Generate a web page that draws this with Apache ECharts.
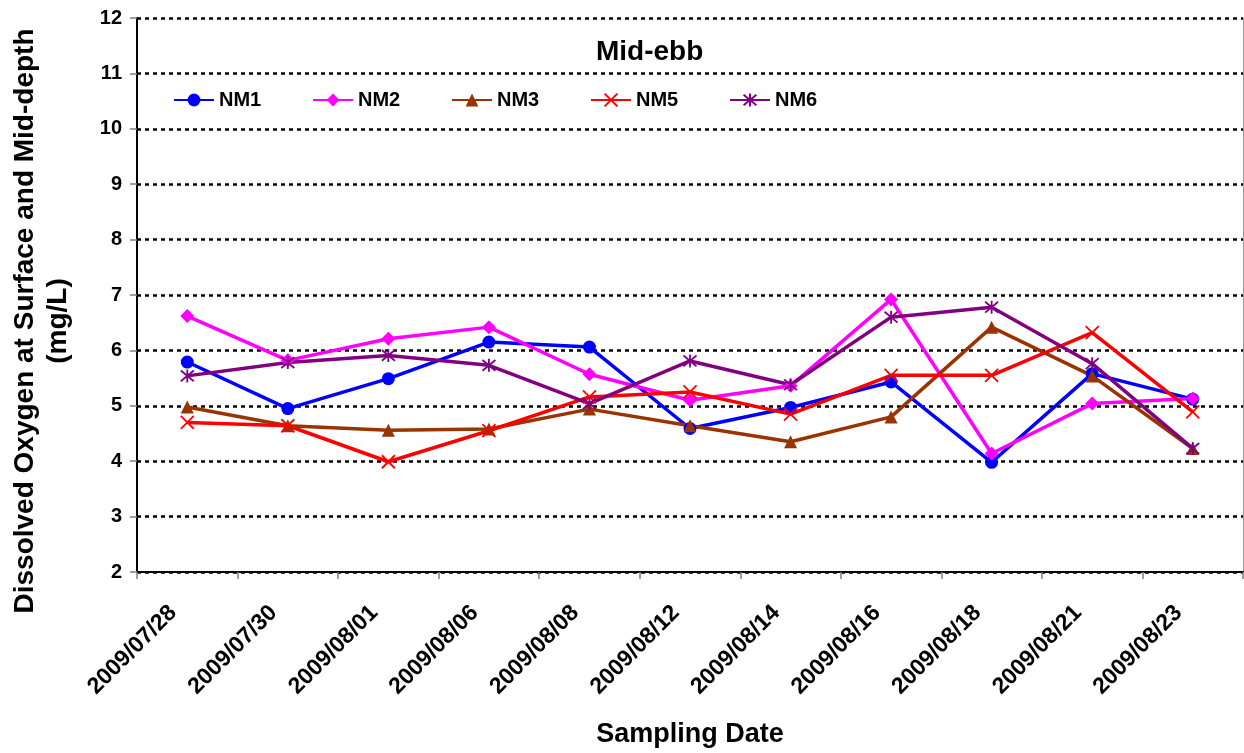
<!DOCTYPE html>
<html>
<head>
<meta charset="utf-8">
<script src="https://cdn.jsdelivr.net/npm/echarts@6/dist/echarts.min.js"></script>
<style>
html,body{margin:0;padding:0;background:#fff;}
#chart{width:1244px;height:753px;}
</style>
</head>
<body>
<div id="chart"></div>
<script>
const dates = ['2009/07/28','2009/07/30','2009/08/01','2009/08/06','2009/08/08','2009/08/12','2009/08/14','2009/08/16','2009/08/18','2009/08/21','2009/08/23'];
const NM1 = [5.79, 4.95, 5.49, 6.15, 6.06, 4.59, 4.97, 5.43, 3.98, 5.58, 5.12];
const NM2 = [6.62, 5.82, 6.21, 6.42, 5.57, 5.10, 5.36, 6.92, 4.14, 5.04, 5.13];
const NM3 = [4.98, 4.64, 4.56, 4.58, 4.94, 4.64, 4.35, 4.80, 6.42, 5.54, 4.23];
const NM5 = [4.70, 4.64, 3.99, 4.55, 5.16, 5.25, 4.85, 5.55, 5.55, 6.32, 4.89];
const NM6 = [5.54, 5.78, 5.91, 5.73, 5.04, 5.81, 5.38, 6.60, 6.78, 5.76, 4.23];
const yTicks = [2, 12, 1];

const FONT = 'Liberation Sans, Arial, sans-serif';
const seriesDefs = [
  {name:'NM1', data:NM1, color:'#0000FF', symbol:'circle', size:13, border:0},
  {name:'NM2', data:NM2, color:'#FF00FF', symbol:'diamond', size:14, border:0},
  {name:'NM3', data:NM3, color:'#993300', symbol:'triangle', size:13, border:0},
  {name:'NM5', data:NM5, color:'#FF0000', symbol:'path://M0,0L10,10M10,0L0,10', size:13, border:1.8},
  {name:'NM6', data:NM6, color:'#800080', symbol:'path://M0,0L10,10M10,0L0,10M5,-1L5,11', size:13, border:1.8}
];
const legendLefts = [173, 312, 451, 590, 729];

const chart = echarts.init(document.getElementById('chart'), null, {renderer:'canvas'});
const option = {
  backgroundColor:'#ffffff',
  animation:false,
  textStyle:{fontFamily:FONT},
  title:{
    text:'Mid-ebb', left:591, top:33,
    textStyle:{fontFamily:FONT, fontSize:28, fontWeight:'bold', color:'#000'}
  },
  legend: seriesDefs.map((s,i)=>({
    data:[s.name], left:legendLefts[i], top:90, padding:0,
    itemWidth:40, itemHeight:16, itemGap:0,
    textStyle:{fontFamily:FONT, fontSize:20, fontWeight:'bold', color:'#000'}
  })),
  grid:{left:137, right:1, top:18, bottom:180, containLabel:false},
  xAxis:{
    type:'category', data:dates, boundaryGap:true,
    name:'Sampling Date', nameLocation:'middle', nameGap:149,
    nameTextStyle:{fontFamily:FONT, fontSize:27, fontWeight:'bold', color:'#000'},
    axisLine:{lineStyle:{color:'#000', width:2}},
    axisTick:{show:true, length:7, lineStyle:{color:'#808080', width:1.5}},
    axisLabel:{interval:0, rotate:45, margin:23, padding:[0,20,0,0],
      fontFamily:FONT, fontSize:23, fontWeight:'bold', color:'#000'},
    splitLine:{show:false}
  },
  yAxis:[{
    type:'value', min:yTicks[0], max:yTicks[1], interval:yTicks[2],
    axisLine:{show:true, lineStyle:{color:'#000', width:2}},
    axisTick:{show:true, length:7, lineStyle:{color:'#808080', width:1.5}},
    axisLabel:{margin:15, fontFamily:FONT, fontSize:20, fontWeight:'bold', color:'#000'},
    splitLine:{show:true, lineStyle:{color:'#000', width:2.5, type:[4,4]}}
  },{
    type:'value', min:yTicks[0], max:yTicks[1], interval:yTicks[2], position:'right',
    axisLine:{show:true, lineStyle:{color:'#9a9a9a', width:1}},
    axisTick:{show:false}, axisLabel:{show:false}, splitLine:{show:false}
  }],
  graphic:[
    {type:'text', x:25, y:321, rotation:Math.PI/2,
      style:{text:'Dissolved Oxygen at Surface and Mid-depth', fontFamily:FONT, fontSize:28, fontWeight:'bold', fill:'#000', textAlign:'center', textVerticalAlign:'middle'}},
    {type:'text', x:58, y:321, rotation:Math.PI/2,
      style:{text:'(mg/L)', fontFamily:FONT, fontSize:28, fontWeight:'bold', fill:'#000', textAlign:'center', textVerticalAlign:'middle'}}
  ],
  series: seriesDefs.map(s=>({
    name:s.name, type:'line', data:s.data,
    symbol:s.symbol, symbolSize:s.size, showAllSymbol:true,
    lineStyle:{color:s.color, width:3.5},
    itemStyle:{color:s.color, borderColor:s.color, borderWidth:s.border},
    emphasis:{disabled:true}
  }))
};
chart.setOption(option);
</script>
</body>
</html>
